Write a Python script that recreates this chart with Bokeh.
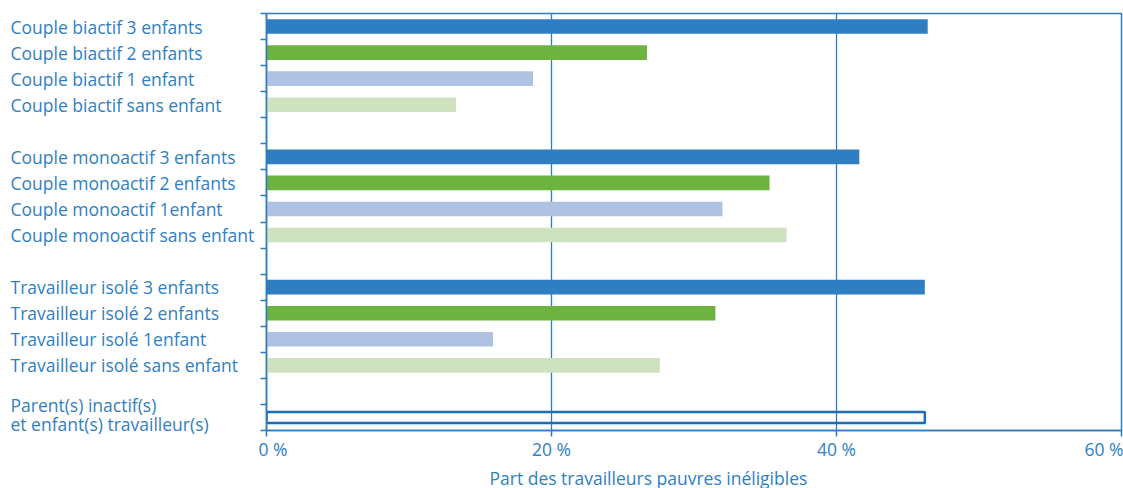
from bokeh.plotting import figure
from bokeh.layouts import row
from bokeh.models import (Range1d, FixedTicker, PrintfTickFormatter, Title,
                          ColumnDataSource, CustomJSTickFormatter)
from bokeh.core.properties import value
from bokeh.embed import file_html
from bokeh.resources import INLINE

# ---- data ----
categories = [
    "Couple biactif 3 enfants",
    "Couple biactif 2 enfants",
    "Couple biactif 1 enfant",
    "Couple biactif sans enfant",
    "Couple monoactif 3 enfants",
    "Couple monoactif 2 enfants",
    "Couple monoactif 1enfant",
    "Couple monoactif sans enfant",
    "Travailleur isolé 3 enfants",
    "Travailleur isolé 2 enfants",
    "Travailleur isolé 1enfant",
    "Travailleur isolé sans enfant",
    "Parent(s) inactif(s)\net enfant(s) travailleur(s)",
]
group_sizes = [4, 4, 4, 1]
values = [46.4, 26.7, 18.7, 13.3,
          41.6, 35.3, 32.0, 36.5,
          46.2, 31.5, 15.9, 27.6,
          46.2]
x_ticks = [0, 20, 40, 60]
x_title = "Part des travailleurs pauvres inéligibles"

# ---- slot positions from the group structure ----
pos = []
slot = 1
for n in group_sizes:
    for k in range(n):
        pos.append(slot)
        slot += 1
    slot += 1  # spacer row between groups
n_slots = pos[-1]

BLUE = "#2E7CC0"
TEXT = "#2F80C4"
sub_colors = ["#2F7EC1", "#6DB33F", "#AFC2E3", "#CFE2BF"]
colors = []
for n in group_sizes:
    for k in range(n):
        colors.append(sub_colors[k] if n > 1 else None)

FONT = "Open Sans"
FS = "17.5px"

FRAME_H = 417
SLOT_PX = FRAME_H / n_slots
TOP = 13

# ---- left figure: category labels ----
LEFT_W = 258
left_range = Range1d(n_slots + 1.5, 0.5)
left = figure(width=LEFT_W, frame_height=round(FRAME_H + SLOT_PX),
              x_range=Range1d(0, LEFT_W), y_range=left_range,
              output_backend="svg", toolbar_location=None,
              min_border_left=0, min_border_right=0, min_border_top=TOP, min_border_bottom=0)
left.axis.visible = False
left.grid.visible = False
left.outline_line_color = None

lx, ly, lt, loff = [], [], [], []
LINE_H = 19
for c, y in zip(categories, pos):
    lines = c.split("\n")
    n = len(lines)
    for j, t in enumerate(lines):
        lx.append(10)
        ly.append(y)
        lt.append(t)
        loff.append((j - (n - 1) / 2) * LINE_H - (2.5 if n > 1 else 0))
left.text(x="x", y="y", text="t", y_offset="off",
          source=ColumnDataSource(dict(x=lx, y=ly, t=lt, off=loff)),
          text_font=value(FONT), text_font_size=FS, text_color=TEXT,
          text_align="left", text_baseline="middle")

# ---- right figure: bars ----
p = figure(frame_width=855, frame_height=FRAME_H,
           x_range=Range1d(0, 60), y_range=Range1d(n_slots + 0.5, 0.5),
           output_backend="svg", toolbar_location=None,
           min_border_left=8, min_border_right=2, min_border_top=TOP, min_border_bottom=0)

solid_idx = [i for i in range(len(categories)) if colors[i] is not None]
outline_idx = [i for i in range(len(categories)) if colors[i] is None]

src = ColumnDataSource(dict(y=[pos[i] for i in solid_idx],
                            right=[values[i] for i in solid_idx],
                            color=[colors[i] for i in solid_idx]))
p.hbar(y="y", left=0, right="right", height=0.56, source=src,
       fill_color="color", line_color=None)

src2 = ColumnDataSource(dict(y=[pos[i] for i in outline_idx],
                             right=[values[i] for i in outline_idx]))
p.hbar(y="y", left=0, right="right", height=0.42, source=src2,
       fill_alpha=0, line_color="#1F6CB0", line_width=2.5)

# grid
p.ygrid.visible = False
p.xgrid.ticker = FixedTicker(ticks=x_ticks)
p.xgrid.grid_line_color = BLUE
p.xgrid.grid_line_width = 1.3
p.xgrid.level = "underlay"

p.outline_line_color = BLUE
p.outline_line_width = 1.5
p.outline_line_alpha = 1.0

# x axis
xa = p.xaxis[0]
xa.ticker = FixedTicker(ticks=x_ticks)
xa.formatter = PrintfTickFormatter(format="%d %%")
xa.axis_line_color = BLUE
xa.axis_line_width = 1.5
xa.major_tick_line_color = BLUE
xa.major_tick_line_width = 1.5
xa.major_tick_out = 6
xa.major_tick_in = 0
xa.minor_tick_line_color = None
xa.major_label_text_font = FONT
xa.major_label_text_font_size = FS
xa.major_label_text_color = TEXT
xa.major_label_standoff = 0

# y axis: ticks at slot boundaries, no labels
ya = p.yaxis[0]
ya.ticker = FixedTicker(ticks=[i + 0.5 for i in range(n_slots + 1)])
ya.formatter = CustomJSTickFormatter(code="return ''")
ya.axis_line_color = BLUE
ya.axis_line_width = 1.5
ya.major_tick_line_color = BLUE
ya.major_tick_line_width = 1.5
ya.major_tick_out = 6
ya.major_tick_in = 0
ya.minor_tick_line_color = None
ya.major_label_standoff = 0

p.add_layout(Title(text=x_title, align="left", offset=223, text_font=FONT,
                   text_font_size=FS, text_color=TEXT, text_font_style="normal",
                   standoff=0), "below")

layout = row(left, p)
open("out.html", "w").write(file_html(layout, INLINE))
